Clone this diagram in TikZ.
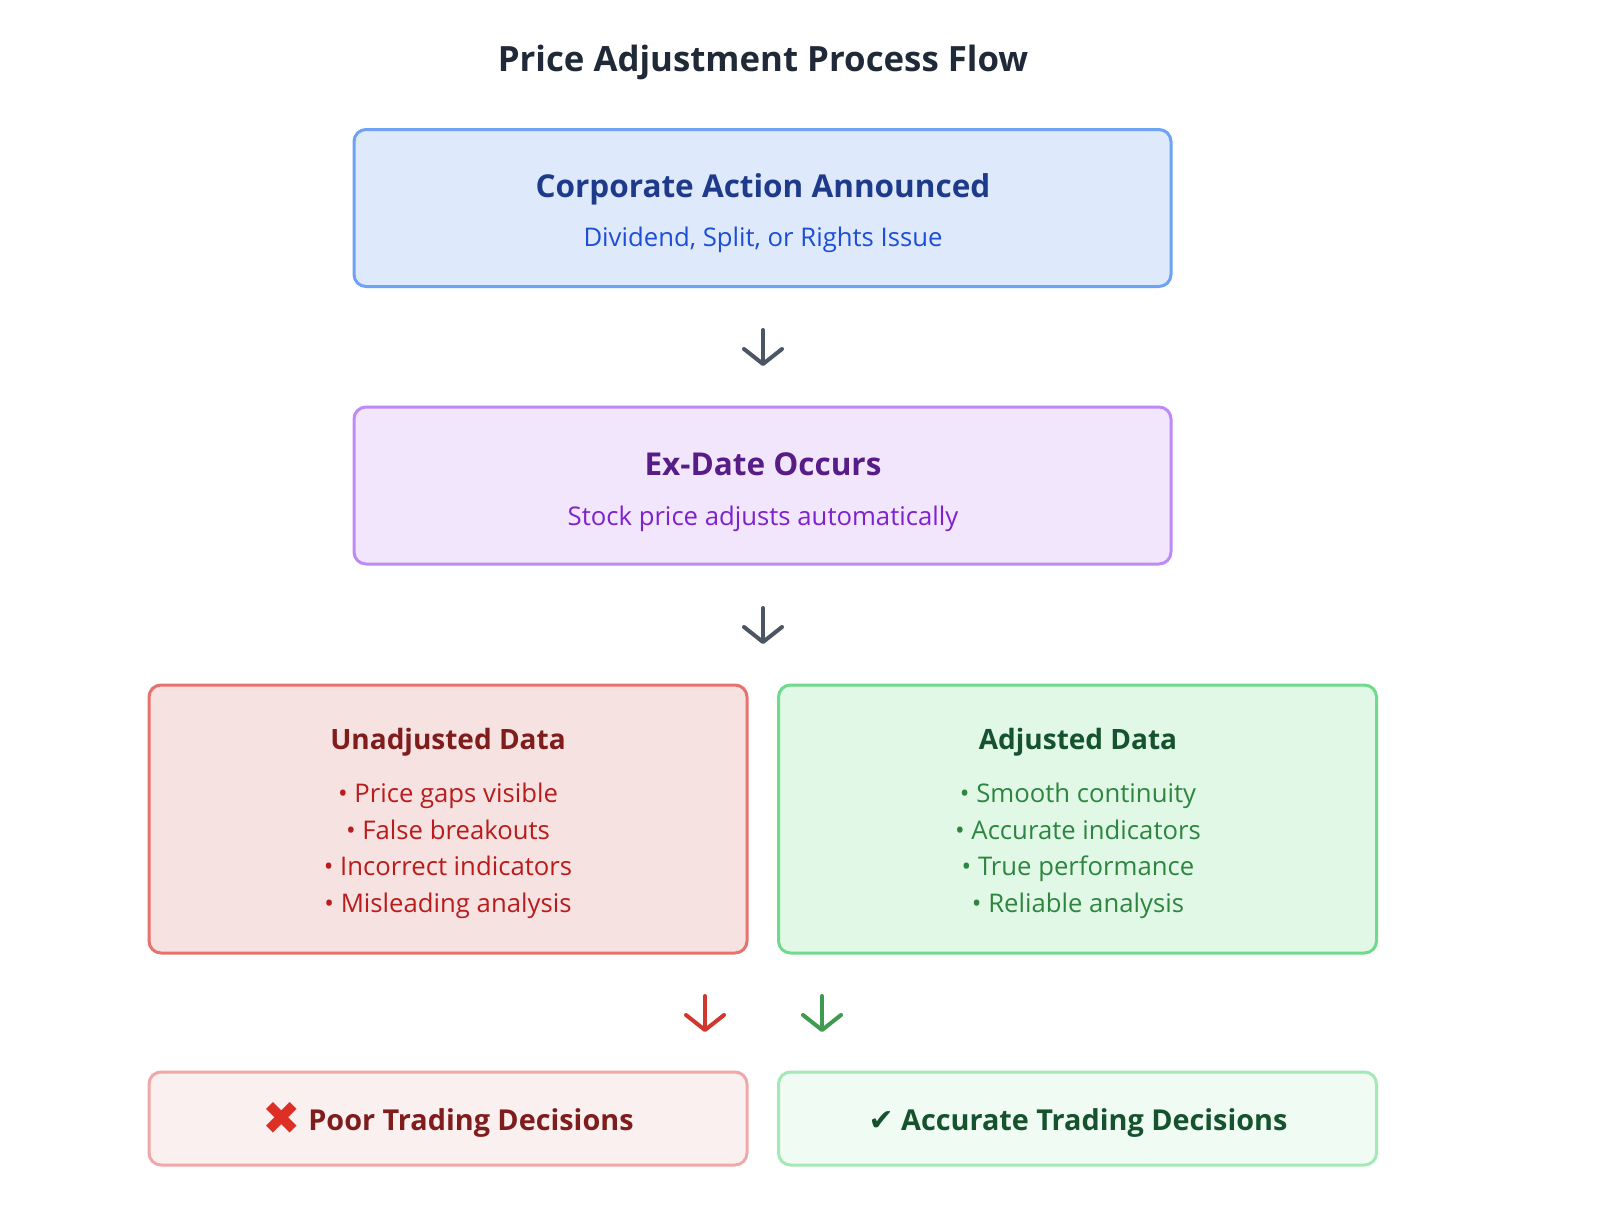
\documentclass[tikz,border=0pt]{standalone}
\usepackage{fontspec}
\setmainfont{Open Sans}
\newfontfamily\symfont{DejaVu Sans}
\usetikzlibrary{arrows.meta}

\definecolor{titlegray}{HTML}{1F2937}
\definecolor{arrgray}{HTML}{4B5563}
\definecolor{bluefill}{HTML}{DEE9FB}
\definecolor{blueline}{HTML}{6EA2F5}
\definecolor{bluehead}{HTML}{1E3A8A}
\definecolor{bluetxt}{HTML}{1D4ED8}
\definecolor{purpfill}{HTML}{F1E6FC}
\definecolor{purpline}{HTML}{BE8AF7}
\definecolor{purphead}{HTML}{581C87}
\definecolor{purptxt}{HTML}{7E22CE}
\definecolor{redfill}{HTML}{F7E2E2}
\definecolor{redline}{HTML}{E8716E}
\definecolor{redhead}{HTML}{7F1D1D}
\definecolor{redtxt}{HTML}{B91C1C}
\definecolor{redmark}{HTML}{DC2F26}
\definecolor{greenfill}{HTML}{E1F8E7}
\definecolor{greenline}{HTML}{6FD98C}
\definecolor{greenhead}{HTML}{14532D}
\definecolor{greentxt}{HTML}{2E8540}
\definecolor{greenarr}{HTML}{3E9B4F}
\definecolor{redarr}{HTML}{D0382F}
\definecolor{lredfill}{HTML}{FBF0F0}
\definecolor{lredline}{HTML}{F0A7A7}
\definecolor{lgreenfill}{HTML}{F0FBF3}
\definecolor{lgreenline}{HTML}{A3E8B5}

\begin{document}
\begin{tikzpicture}[x=1pt,y=-1pt,
  box/.style={draw,line width=3pt,rounded corners=12pt,inner sep=0pt},
  bigbox/.style={box,minimum width=817pt,minimum height=157pt},
  halfbox/.style={box,minimum width=598pt,minimum height=268pt},
  endbox/.style={box,minimum width=598pt,minimum height=93pt},
  headtxt/.style={inner sep=0pt,text height=0.72em,text depth=0.22em,font=\fontsize{31.5}{36}\selectfont\bfseries},
  subtxt/.style={inner sep=0pt,text height=0.72em,text depth=0.22em,font=\fontsize{25.7}{30}\selectfont},
  flowarr/.style={line width=4pt,line cap=round,
    -{Straight Barb[length=15pt,width=38pt,line cap=round,line join=round]}}]
\useasboundingbox (0,0) rectangle (1600,1208);

\node[inner sep=0pt,text=titlegray,font=\fontsize{34.8}{40}\selectfont\bfseries] (title) at (763,62) {Price Adjustment Process Flow};

\node[bigbox,draw=blueline,fill=bluefill] (corp) at (762.5,208) {};
\node[headtxt,text=bluehead] (corphead) at (763,195) {Corporate Action Announced};
\node[subtxt,text=bluetxt] (corpsub) at (763,244) {Dividend, Split, or Rights Issue};

\node[bigbox,draw=purpline,fill=purpfill] (exdate) at (762.5,485.5) {};
\node[headtxt,text=purphead] (exhead) at (763,473) {Ex-Date Occurs};
\node[subtxt,text=purptxt] (exsub) at (763,523) {Stock price adjusts automatically};

\node[halfbox,draw=redline,fill=redfill] (unadj) at (448,819) {};
\node[headtxt,text=redhead,font=\fontsize{28}{32}\selectfont\bfseries] (unhead) at (448,747) {Unadjusted Data};
\foreach \t [count=\i] in {Price gaps visible,False breakouts,Incorrect indicators,Misleading analysis}
  \node[subtxt,text=redtxt] (un\i) at (448,{800+36.7*(\i-1)}) {• \t};

\node[halfbox,draw=greenline,fill=greenfill] (adj) at (1077.5,819) {};
\node[headtxt,text=greenhead,font=\fontsize{28}{32}\selectfont\bfseries] (adjhead) at (1078,747) {Adjusted Data};
\foreach \t [count=\i] in {Smooth continuity,Accurate indicators,True performance,Reliable analysis}
  \node[subtxt,text=greentxt] (adj\i) at (1078,{800+36.7*(\i-1)}) {• \t};

\node[endbox,draw=lredline,fill=lredfill] (poor) at (448,1118.5) {};
\node[headtxt,text=redhead,font=\fontsize{28.8}{34}\selectfont\bfseries] (poortxt) at (448,1128) {\raisebox{-0.14em}{\symfont\color{redmark}\fontsize{46}{46}\selectfont ✖} Poor Trading Decisions};

\node[endbox,draw=lgreenline,fill=lgreenfill] (good) at (1077.5,1118.5) {};
\node[headtxt,text=greenhead,font=\fontsize{28.8}{34}\selectfont\bfseries] (goodtxt) at (1078,1128) {{\symfont\fontsize{30}{30}\selectfont ✔} Accurate Trading Decisions};

\coordinate (a1s) at (763,330);
\coordinate (a1e) at (763,366);
\coordinate (a2s) at (763,608);
\coordinate (a2e) at (763,644);
\coordinate (a3s) at (705,996);
\coordinate (a3e) at (705,1032);
\coordinate (a4s) at (822,996);
\coordinate (a4e) at (822,1032);
\draw[flowarr,arrgray] (a1s) -- (a1e);
\draw[flowarr,arrgray] (a2s) -- (a2e);
\draw[flowarr,redarr] (a3s) -- (a3e);
\draw[flowarr,greenarr] (a4s) -- (a4e);
\end{tikzpicture}
\end{document}
